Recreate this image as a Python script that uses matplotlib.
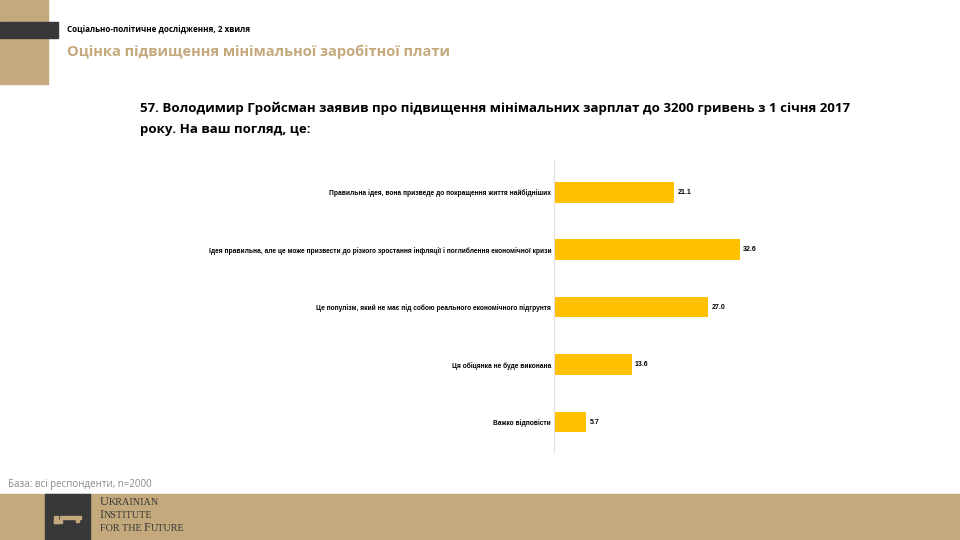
import matplotlib.pyplot as plt
from matplotlib.patches import Rectangle

# survey answers, top to bottom
answers = [
    'Правильна ідея, вона призведе до покращення життя найбідніших',
    'Ідея правильна, але це може призвести до різкого зростання інфляції і поглиблення економічної кризи',
    'Це популізм, який не має під собою реального економічного підгрунтя',
    'Ця обіцянка не буде виконана',
    'Важко відповісти',
]
shares = [21.1, 32.6, 27.0, 13.6, 5.7]

tan = '#C4A97C'
dark = '#383838'
gold = '#FFC000'
narrow = ['Liberation Sans', 'DejaVu Sans']
serif = ['Liberation Serif', 'DejaVu Serif']

plt.rcParams['font.family'] = ['Open Sans', 'DejaVu Sans']

fig = plt.figure(figsize=(9.6, 5.4), dpi=100)

# decoration: left strip, dark bar, bottom band
fig.patches.append(Rectangle((0, 1 - 84/540), 48/960, 84/540, transform=fig.transFigure, color=tan, zorder=0))
fig.patches.append(Rectangle((0, 1 - 38/540), 58/960, 16/540, transform=fig.transFigure, color=dark, zorder=1))
fig.patches.append(Rectangle((0, 0), 1, 46/540, transform=fig.transFigure, color=tan, zorder=0))
fig.patches.append(Rectangle((45/960, 0), 45/960, 46/540, transform=fig.transFigure, color=dark, zorder=1))

# key icon
fig.patches.append(Rectangle((54/960, 17/540), 4/960, 7/540, transform=fig.transFigure, color=tan, zorder=2))
fig.patches.append(Rectangle((54/960, 17/540), 8/960, 3/540, transform=fig.transFigure, color=tan, zorder=2))
fig.patches.append(Rectangle((60/960, 21/540), 21/960, 3/540, transform=fig.transFigure, color=tan, zorder=2))
fig.patches.append(Rectangle((76/960, 18/540), 3/960, 3/540, transform=fig.transFigure, color=tan, zorder=2))

# logo text in small caps: big letter + small letters
renderer = fig.canvas.get_renderer()
logo_lines = [[('U', 'KRAINIAN')], [('I', 'NSTITUTE')], [('', 'FOR THE '), ('F', 'UTURE')]]
for i, line in enumerate(logo_lines):
    x = 100
    y = 35 - i * 13
    for big, small in line:
        for txt, size in [(big, 9), (small, 7.3)]:
            if not txt:
                continue
            t = fig.text(x/960, y/540, txt, family=serif, fontsize=size, color=dark, va='baseline', ha='left')
            x += t.get_window_extent(renderer).width

fig.text(67/960, 1 - 30/540, 'Соціально-політичне дослідження, 2 хвиля', fontsize=5.8,
         fontweight='bold', color='black', va='center')
fig.text(67/960, 1 - 52/540, 'Оцінка підвищення мінімальної заробітної плати', fontsize=10.5,
         fontweight='bold', color=tan, va='center')

fig.text(140/960, 1 - 108/540, '57. Володимир Гройсман заявив про підвищення мінімальних зарплат до 3200 гривень з 1 січня 2017',
         fontsize=9.5, fontweight='bold', color='black', va='center')
fig.text(140/960, 1 - 130/540, 'року. На ваш погляд, це:', fontsize=9.5, fontweight='bold', color='black', va='center')

fig.text(8/960, 1 - 485/540, 'База: всі респонденти, n=2000', fontsize=7, color='#8A8A8A', va='center')

ax = fig.add_axes([554/960, 1 - 452/540, 346/960, 292/540])
pos = list(range(len(answers)))
ax.barh(pos, shares, height=0.36, color=gold, zorder=2)
ax.set_ylim(len(answers) - 0.48, -0.56)
ax.set_xlim(0, 346/5.7)
for s in ['top', 'right', 'bottom']:
    ax.spines[s].set_visible(False)
ax.spines['left'].set_color('#E0E0E0')
ax.set_xticks([])
ax.set_yticks(pos)
ax.set_yticklabels(answers, family=narrow, fontsize=4.8, fontweight='bold', color='black')
ax.tick_params(axis='y', length=0, pad=2)
for p, v in zip(pos, shares):
    ax.text(v + 0.6, p, f'{v:.1f}', va='center', ha='left', fontsize=5, family=narrow, fontweight='bold')

fig.savefig('out.png', dpi=100)
